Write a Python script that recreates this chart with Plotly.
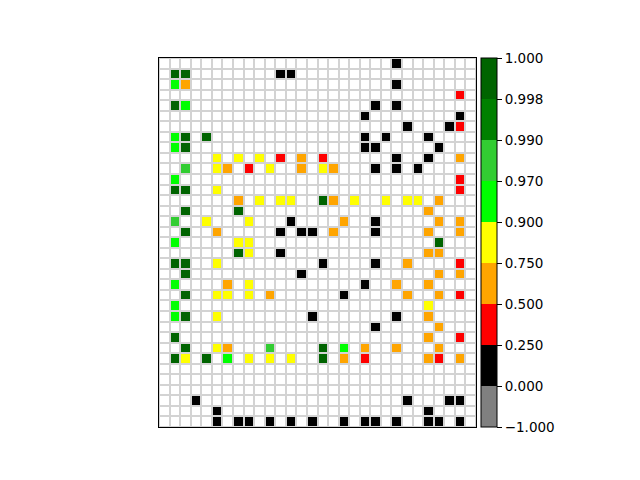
import numpy as np
import plotly.graph_objects as go

# Grid of cells (row 0 = top). Codes: '.' empty, k/r/o/y/l/g/d = colour level
grid_rows = [
    "......................k.......",
    ".dd........kk.................",
    ".lo...................k.......",
    "............................r.",
    ".dl.................k.k.......",
    "...................k........k.",
    ".......................k...kr.",
    ".ld.d..............k.k...k....",
    ".ld................kk.....k...",
    ".....y.y.y.r.o.r......k..k..o.",
    "..g..yo.r.y..o.yo...k.k.k.....",
    ".l..........................r.",
    ".dd..y......................r.",
    ".......o.y.yy..do.y..y.yy.o...",
    "..d....d.................o....",
    ".g..y...y...k....o..k.....o.o.",
    "..d..o.....k.kk.o...k....o..o.",
    ".l.....yy.................d...",
    ".......dy..k.............oo...",
    ".dd..y.........k....k..o....r.",
    "..d..........k............o.o.",
    ".l....o.y..........k..o..o....",
    "..d..yy.y.o......k.....o..o.r.",
    ".l.......................y....",
    ".ld..y........k.......k..o....",
    "....................k.....o...",
    ".d.......................o..r.",
    "..d..yo...g....d.l.o..o...o...",
    ".dy.d.l.y.y.y..d.o.r.....or.o.",
    "..............................",
    "..............................",
    "..............................",
    "...k...................k...kk.",
    ".....k...................k....",
    ".....k.kk.k.k.k..k.kk.k..kk.k.",
]

# representative value per colour code
code_values = {"k": 0.1, "r": 0.3, "o": 0.6, "y": 0.8, "l": 0.95, "g": 0.98, "d": 0.999}

bounds = [-1.0, 0.0, 0.25, 0.5, 0.75, 0.9, 0.97, 0.99, 0.998, 1.0]
bound_labels = ["\u22121.000", "0.000", "0.250", "0.500", "0.750", "0.900", "0.970", "0.990", "0.998", "1.000"]
colors = ["#808080", "#000000", "#ff0000", "#ffa500", "#ffff00", "#00ff00", "#32cd32", "#008000", "#006400"]

n_rows = len(grid_rows)
n_cols = len(grid_rows[0])

values = np.full((n_rows, n_cols), np.nan)
for r, row in enumerate(grid_rows):
    for c, ch in enumerate(row):
        if ch in code_values:
            values[r, c] = code_values[ch]

# map values to evenly spaced bins (like a BoundaryNorm)
idx = np.digitize(values, bounds[1:-1], right=False).astype(float)
idx[np.isnan(values)] = np.nan
zbin = idx + 0.5

nb = len(colors)
colorscale = []
for i, col in enumerate(colors):
    colorscale.append([i / nb, col])
    colorscale.append([(i + 1) / nb, col])

xs = list(range(n_cols))
ys = list(range(n_rows))

fig = go.Figure()
fig.add_trace(go.Heatmap(
    z=np.zeros((n_rows, n_cols)), x=xs, y=ys,
    colorscale=[[0, "white"], [1, "white"]], showscale=False,
    xgap=2, ygap=2, hoverinfo="skip",
))
fig.add_trace(go.Heatmap(
    z=zbin, x=xs, y=ys, zmin=0, zmax=nb,
    colorscale=colorscale, xgap=2, ygap=2,
    colorbar=dict(
        x=(481 - 159) / 317, xanchor="left", xpad=0,
        y=0.5, yanchor="middle", len=1, lenmode="fraction", ypad=0,
        thickness=16, outlinewidth=1, outlinecolor="black",
        tickvals=list(range(nb + 1)), ticktext=bound_labels,
        ticks="outside", ticklen=5, tickwidth=1, tickcolor="black",
        tickfont=dict(family="DejaVu Sans", size=13.5, color="black"),
    ),
))

fig.update_layout(
    width=640, height=480,
    margin=dict(l=159, r=164, t=58, b=53),
    paper_bgcolor="white", plot_bgcolor="#d3d3d3",
    font=dict(family="DejaVu Sans"),
)
fig.update_xaxes(range=[-0.5, n_cols - 0.5], showticklabels=False, ticks="",
                 showgrid=False, zeroline=False, showline=True, linecolor="black",
                 linewidth=1, mirror=True)
fig.update_yaxes(range=[n_rows - 0.5, -0.5], showticklabels=False, ticks="",
                 showgrid=False, zeroline=False, showline=True, linecolor="black",
                 linewidth=1, mirror=True)

fig.write_html("out.html")
